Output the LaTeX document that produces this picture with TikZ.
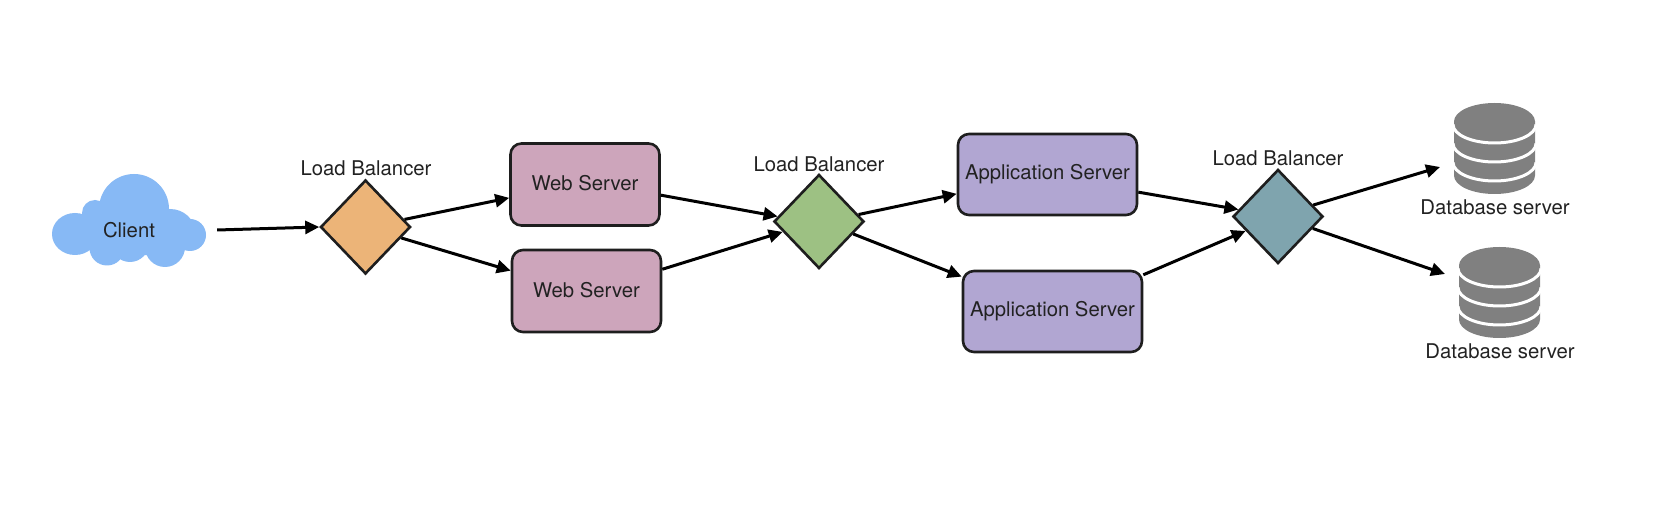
\documentclass[tikz,border=0pt]{standalone}
\usepackage{fontspec}
\setmainfont{TeX Gyre Heros}
\usetikzlibrary{shapes.geometric,arrows.meta}
\definecolor{inkc}{HTML}{1E1E1E}
\definecolor{textc}{HTML}{222222}
\definecolor{cloudc}{HTML}{87B9F5}
\definecolor{orangec}{HTML}{ECB478}
\definecolor{greenc}{HTML}{9DC183}
\definecolor{tealc}{HTML}{7FA4AE}
\definecolor{pinkc}{HTML}{CDA5BB}
\definecolor{purplec}{HTML}{B1A6D2}
\definecolor{dbc}{HTML}{808080}
\tikzset{
  x=1pt,y=-1pt,
  lbl/.style={font=\fontsize{20.3}{24}\selectfont,text=textc,inner sep=0pt},
  lbdiamond/.style={diamond,aspect=1,draw=inkc,line width=2.6pt,minimum width=90pt,minimum height=94pt,inner sep=0pt},
  srvbox/.style={draw=inkc,line width=2.6pt,rounded corners=11pt,inner sep=0pt,lbl},
  webbox/.style={srvbox,fill=pinkc,minimum width=149pt,minimum height=82pt},
  appbox/.style={srvbox,fill=purplec,minimum width=179pt,minimum height=81pt},
  conn/.style={draw=black,line width=3pt,-{Triangle[length=14pt,width=13pt]}},
  dbcyl/.pic={
    \fill[dbc] (-40.5,18.5) -- (-40.5,72.5) arc[start angle=180,end angle=360,x radius=40.5,y radius=-18.5] -- (40.5,18.5) -- cycle;
    \fill[dbc] (0,18.5) ellipse[x radius=40.5,y radius=18.5];
    \foreach \yy in {21.5,40.5,59.5}{
      \draw[white,line width=3pt] (-41.5,\yy) arc[start angle=180,end angle=360,x radius=41.5,y radius=-18.5];
    }
  }
}
\begin{document}
\begin{tikzpicture}
\useasboundingbox (0,0) rectangle (1678,518);
\fill[white] (0,0) rectangle (1678,518);
% cloud
\fill[cloudc] (75,234) ellipse[x radius=23,y radius=21]
  (134,209) circle[radius=35]
  (95,213) circle[radius=13]
  (190,235) circle[radius=16]
  (170,232) ellipse[x radius=25,y radius=23]
  (107,248) circle[radius=17.5]
  (130,243) circle[radius=19]
  (165,247) circle[radius=20]
  (130,232) ellipse[x radius=60,y radius=24];
\node[lbl,minimum width=176pt,minimum height=40pt] (client) at (129,230) {Client};
% load balancers
\node[lbdiamond,fill=orangec] (lb1) at (365.5,227) {};
\node[lbdiamond,fill=greenc] (lb2) at (819,221.5) {};
\node[lbdiamond,fill=tealc] (lb3) at (1278,216.5) {};
\node[lbl] (lb1t) at (366,168.5) {Load Balancer};
\node[lbl] (lb2t) at (819,164) {Load Balancer};
\node[lbl] (lb3t) at (1278,158.5) {Load Balancer};
% servers
\node[webbox,text depth=3pt] (web1) at (585,184.5) {Web Server};
\node[webbox,text depth=3pt] (web2) at (586.5,291) {Web Server};
\node[appbox] (app1) at (1047.5,174.5) {Application Server};
\node[appbox] (app2) at (1052.5,311.5) {Application Server};
% databases
\pic at (1494.5,103) {dbcyl};
\pic at (1499.5,247) {dbcyl};
\node[lbl] (db1t) at (1495,207.5) {Database server};
\node[lbl] (db2t) at (1500,351) {Database server};
\coordinate (db1in) at (1440,167);
\coordinate (db2in) at (1445,274);
% connectors
\draw[conn] (client.east) -- (lb1.west);
\draw[conn] (lb1.11) -- (web1.190);
\draw[conn] (lb1.-17) -- (web2.165);
\draw[conn] (web1.-8.7) -- (lb2.173.6);
\draw[conn] (web2.16.4) -- (lb2.196.3);
\draw[conn] (lb2.10.9) -- (app1.192);
\draw[conn] (lb2.-20.2) -- (app2.159.5);
\draw[conn] (app1.-11) -- (lb3.170.5);
\draw[conn] (app2.22.4) -- (lb3.204.4);
\draw[conn] (lb3.18.2) -- (db1in);
\draw[conn] (lb3.-19.6) -- (db2in);
\end{tikzpicture}
\end{document}
